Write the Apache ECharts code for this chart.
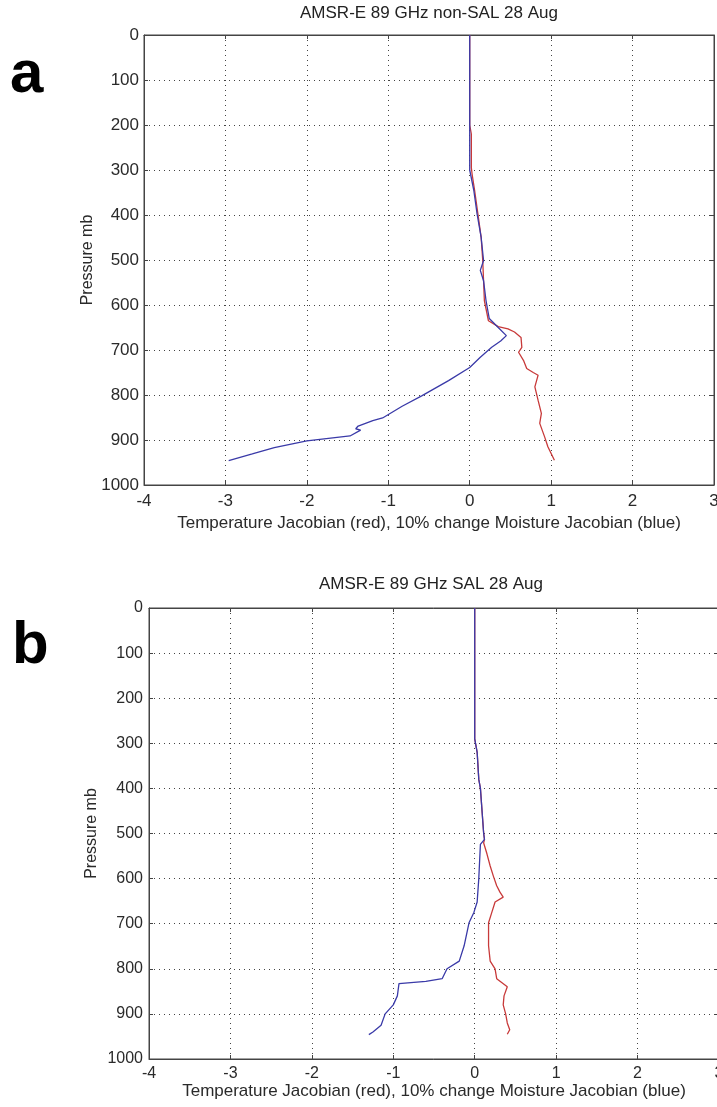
<!DOCTYPE html>
<html>
<head>
<meta charset="utf-8">
<script src="https://cdn.jsdelivr.net/npm/echarts@6/dist/echarts.min.js"></script>
<style>
html,body{margin:0;padding:0;background:#fff;}
#chart{width:717px;height:1107px;}
</style>
</head>
<body>
<div id="chart"></div>
<script>
// ---- data ----
const titleA = 'AMSR-E 89 GHz non-SAL 28 Aug';
const titleB = 'AMSR-E 89 GHz SAL 28 Aug';
const xAxisName = 'Temperature Jacobian (red), 10% change Moisture Jacobian (blue)';
const yAxisName = 'Pressure mb';
const xTicks = [-4, -3, -2, -1, 0, 1, 2, 3];
const yTicks = [0, 100, 200, 300, 400, 500, 600, 700, 800, 900, 1000];

// Panel a, temperature Jacobian (red)
const aTempX = [0, 0, 0.02, 0.02, 0.03, 0.06, 0.10, 0.14, 0.16, 0.17, 0.18, 0.23, 0.35, 0.47, 0.55, 0.63, 0.64, 0.60, 0.66, 0.70, 0.78, 0.84, 0.80, 0.84, 0.88, 0.86, 0.92, 0.96, 1.00, 1.04];
const aTempP = [0, 200, 220, 295, 310, 345, 397, 449, 501, 546, 590, 635, 648, 653, 660, 672, 694, 705, 723, 741, 750, 756, 782, 812, 841, 863, 893, 915, 930, 945];
// Panel a, moisture Jacobian (blue)
const aMoistX = [0, 0, 0.05, 0.09, 0.14, 0.17, 0.13, 0.17, 0.20, 0.24, 0.35, 0.45, 0.38, 0.27, 0.13, 0, -0.26, -0.59, -0.83, -1.07, -1.19, -1.37, -1.40, -1.34, -1.47, -2.00, -2.40, -2.67, -2.96];
const aMoistP = [0, 300, 345, 397, 449, 501, 523, 546, 590, 630, 650, 668, 680, 694, 716, 739, 768, 802, 825, 851, 857, 869, 875, 878, 891, 902, 917, 931, 946];

// Panel b, temperature Jacobian (red)
const bTempX = [0, 0, 0.03, 0.05, 0.07, 0.09, 0.11, 0.12, 0.11, 0.15, 0.19, 0.23, 0.27, 0.31, 0.35, 0.25, 0.21, 0.17, 0.17, 0.19, 0.25, 0.27, 0.40, 0.36, 0.35, 0.38, 0.40, 0.43, 0.40];
const bTempP = [0, 290, 320, 380, 400, 450, 500, 513, 521, 545, 572, 595, 616, 630, 641, 652, 675, 698, 749, 783, 800, 822, 840, 860, 880, 900, 920, 935, 945];
// Panel b, moisture Jacobian (blue)
const bMoistX = [0, 0, 0.03, 0.05, 0.07, 0.09, 0.11, 0.12, 0.07, 0.05, 0.03, -0.01, -0.07, -0.13, -0.19, -0.34, -0.40, -0.60, -0.93, -0.95, -1.00, -1.10, -1.15, -1.25, -1.30];
const bMoistP = [0, 290, 320, 380, 400, 450, 500, 513, 524, 600, 652, 675, 698, 749, 783, 800, 822, 828, 833, 860, 880, 900, 925, 940, 946];

// ---- build ----
const pairs = (xs, ps) => xs.map((x, i) => [x, ps[i]]);
const RED = '#c83a3a';
const BLUE = '#3a3aa8';
const FONT = 'Liberation Sans, Arial, sans-serif';
const TXT = '#2a2a2a';

const grids = [
  {left: 144, right: 3, top: 35, height: 450},
  {left: 149, right: -2, top: 608, height: 451}
];
grids.forEach(g => {
  g.show = true; g.borderColor = '#444'; g.borderWidth = 1; g.backgroundColor = '#fff';
  g.containLabel = false; g.outerBoundsMode = 'none';
});

const panelStyle = [
  {tick: 17, name: 17, yGap: 48, yMargin: 5, xMargin: 8, xGap: 30},
  {tick: 16, name: 17, yGap: 49, yMargin: 6, xMargin: 7, xGap: 24}
];

function xAxes(gi) {
  const s = panelStyle[gi];
  return [{
    type: 'value', gridIndex: gi, min: xTicks[0], max: xTicks[xTicks.length - 1], interval: 1,
    position: 'bottom',
    name: xAxisName, nameLocation: 'middle', nameGap: s.xGap, nameMoveOverlap: false,
    nameTextStyle: {fontFamily: FONT, fontSize: s.name, color: TXT},
    axisLine: {show: true, onZero: false, lineStyle: {color: '#444'}},
    axisTick: {show: true, inside: true, length: 4, lineStyle: {color: '#444'}},
    axisLabel: {fontFamily: FONT, fontSize: s.tick, color: TXT, margin: s.xMargin, showMinLabel: true, showMaxLabel: true, hideOverlap: false},
    splitLine: {show: true, lineStyle: {type: [1, 4], color: '#444', width: 1}}
  }, {
    type: 'value', gridIndex: gi, min: xTicks[0], max: xTicks[xTicks.length - 1], interval: 1,
    position: 'top',
    axisLine: {show: true, onZero: false, lineStyle: {color: '#444'}},
    axisTick: {show: true, inside: true, length: 4, lineStyle: {color: '#444'}},
    axisLabel: {show: false}, splitLine: {show: false}
  }];
}
function yAxes(gi) {
  const s = panelStyle[gi];
  return [{
    type: 'value', gridIndex: gi, min: yTicks[0], max: yTicks[yTicks.length - 1], interval: 100, inverse: true,
    position: 'left',
    name: yAxisName, nameLocation: 'middle', nameGap: s.yGap, nameRotate: 90, nameMoveOverlap: false,
    nameTextStyle: {fontFamily: FONT, fontSize: s.name - 1, color: TXT},
    axisLine: {show: true, onZero: false, lineStyle: {color: '#444'}},
    axisTick: {show: true, inside: true, length: 4, lineStyle: {color: '#444'}},
    axisLabel: {fontFamily: FONT, fontSize: s.tick, color: TXT, margin: s.yMargin, formatter: v => String(v), showMinLabel: true, showMaxLabel: true, hideOverlap: false},
    splitLine: {show: true, lineStyle: {type: [1, 4], color: '#444', width: 1}}
  }, {
    type: 'value', gridIndex: gi, min: yTicks[0], max: yTicks[yTicks.length - 1], interval: 100, inverse: true,
    position: 'right',
    axisLine: {show: true, onZero: false, lineStyle: {color: '#444'}},
    axisTick: {show: true, inside: true, length: 4, lineStyle: {color: '#444'}},
    axisLabel: {show: false}, splitLine: {show: false}
  }];
}

function line(data, color, xi, yi) {
  return {type: 'line', data: data, xAxisIndex: xi, yAxisIndex: yi, showSymbol: false, symbol: 'none',
    smooth: false, animation: false, lineStyle: {color: color, width: 1.3}, z: 5};
}

const option = {
  animation: false,
  backgroundColor: '#fff',
  title: [
    {text: titleA, left: 429, top: 5, padding: 0, textAlign: 'center', textStyle: {fontFamily: FONT, fontSize: 17, fontWeight: 'normal', color: '#222'}},
    {text: titleB, left: 431, top: 576, padding: 0, textAlign: 'center', textStyle: {fontFamily: FONT, fontSize: 17, fontWeight: 'normal', color: '#222'}}
  ],
  graphic: [
    {type: 'text', left: 10, top: 45, style: {text: 'a', font: 'bold 60px Liberation Sans, Arial, sans-serif', fill: '#000'}},
    {type: 'text', left: 12, top: 616, style: {text: 'b', font: 'bold 60px Liberation Sans, Arial, sans-serif', fill: '#000'}}
  ],
  grid: grids,
  xAxis: [...xAxes(0), ...xAxes(1)],
  yAxis: [...yAxes(0), ...yAxes(1)],
  series: [
    line(pairs(aTempX, aTempP), RED, 0, 0),
    line(pairs(aMoistX, aMoistP), BLUE, 0, 0),
    line(pairs(bTempX, bTempP), RED, 2, 2),
    line(pairs(bMoistX, bMoistP), BLUE, 2, 2)
  ]
};

const chart = echarts.init(document.getElementById('chart'), null, {renderer: 'canvas'});
chart.setOption(option);
</script>
</body>
</html>
